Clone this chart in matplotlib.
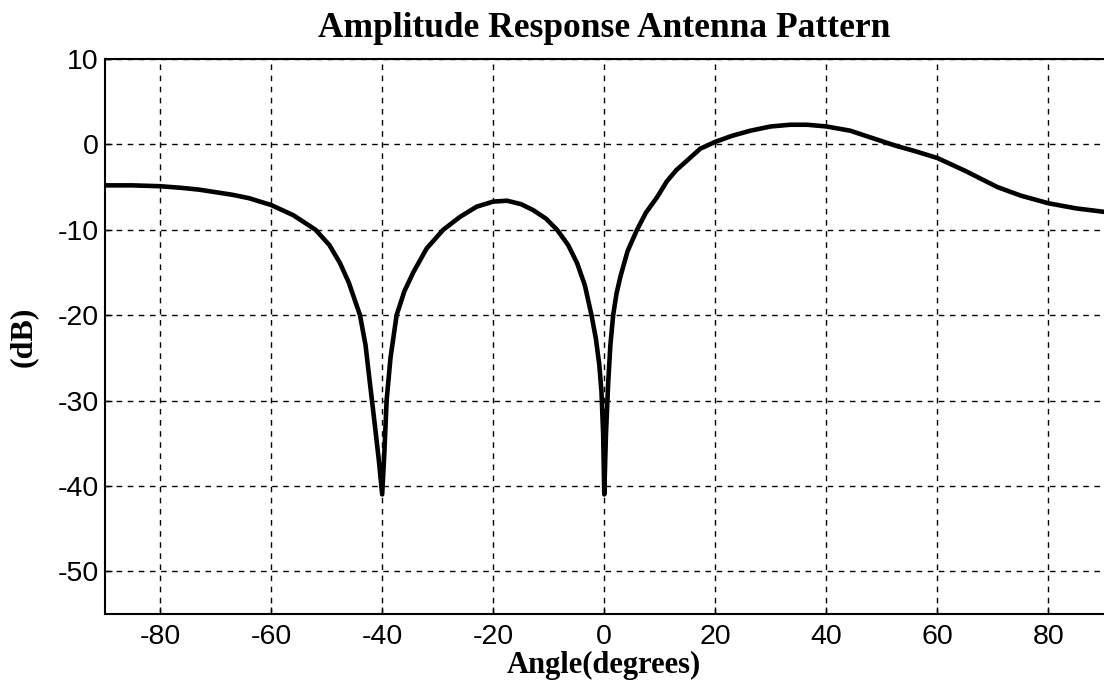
import numpy as np
import matplotlib.pyplot as plt

plt.rcParams['font.family'] = ['Liberation Sans', 'DejaVu Sans']
plt.rcParams['axes.unicode_minus'] = False

# 读图得到的方向图数据 (角度, dB)
angle = [-90, -85, -80, -76, -73, -70, -67, -64, -60, -56, -52, -49.5, -47.6,
         -46, -44, -43, -42.2, -41.3, -40.6, -40, -39.6, -39.2, -38.5, -37.4,
         -36, -34.4, -32, -29, -26, -23, -20, -17.5, -15, -12.8, -10.5, -8.5,
         -6.5, -4.9, -3.5, -2.3, -1.5, -0.9, -0.5, -0.2, 0, 0.3, 0.7, 1.1, 1.6,
         2.2, 2.9, 4.2, 5.9, 7.5, 9.5, 11.3, 13, 14.9, 17.3, 20, 23, 26.3, 30,
         33.5, 36.5, 40, 44.3, 48, 52.7, 56, 60, 65, 70.8, 75, 80, 85, 90]
gain_db = [-4.8, -4.8, -4.9, -5.1, -5.3, -5.6, -5.9, -6.3, -7.1, -8.3, -10.0,
           -11.8, -13.9, -16.2, -20.0, -23.5, -28.0, -33.0, -37.0, -41.0, -36.0,
           -30.0, -25.0, -20.0, -17.2, -15.0, -12.2, -10.0, -8.5, -7.3, -6.7,
           -6.6, -7.0, -7.7, -8.7, -10.0, -11.8, -13.9, -16.5, -20.0, -22.8,
           -25.8, -29.0, -34.0, -41.0, -34.0, -28.0, -23.5, -20.0, -17.5, -15.5,
           -12.5, -10.0, -8.0, -6.2, -4.3, -3.0, -1.9, -0.5, 0.3, 1.0, 1.6, 2.1,
           2.3, 2.3, 2.1, 1.6, 0.8, -0.2, -0.8, -1.6, -3.1, -5.0, -6.0, -6.9,
           -7.5, -7.9]

x_ticks = [-80, -60, -40, -20, 0, 20, 40, 60, 80]
y_ticks = [-50, -40, -30, -20, -10, 0, 10]

fig = plt.figure(figsize=(11.04, 6.86), dpi=100)
ax = fig.add_axes([0.0947, 0.105, 0.9053, 0.809])

ax.plot(angle, gain_db, color='black', linewidth=3.3, solid_joinstyle='round',
        solid_capstyle='round', zorder=3)

ax.set_xlim(-90, 90)
ax.set_ylim(-55, 10)
ax.set_xticks(x_ticks)
ax.set_yticks(y_ticks)
ax.tick_params(direction='in', length=5, width=1, labelsize=20.5, pad=7)
ax.tick_params(axis='y', pad=4)

ax.grid(True, color='black', linestyle=(0, (4, 4)), linewidth=1.0)

for side in ['left', 'bottom', 'top']:
    ax.spines[side].set_linewidth(1.5)
ax.spines['right'].set_visible(False)

ax.set_title('Amplitude Response Antenna Pattern', family='Liberation Serif',
             fontweight='bold', fontsize=25.5, pad=16)
ax.set_xlabel('Angle(degrees)', family='Liberation Serif', fontweight='bold',
              fontsize=22, labelpad=1)
ax.set_ylabel('(dB)', family='Liberation Serif', fontweight='bold',
              fontsize=23, labelpad=14)

fig.savefig('out.png', dpi=100)
